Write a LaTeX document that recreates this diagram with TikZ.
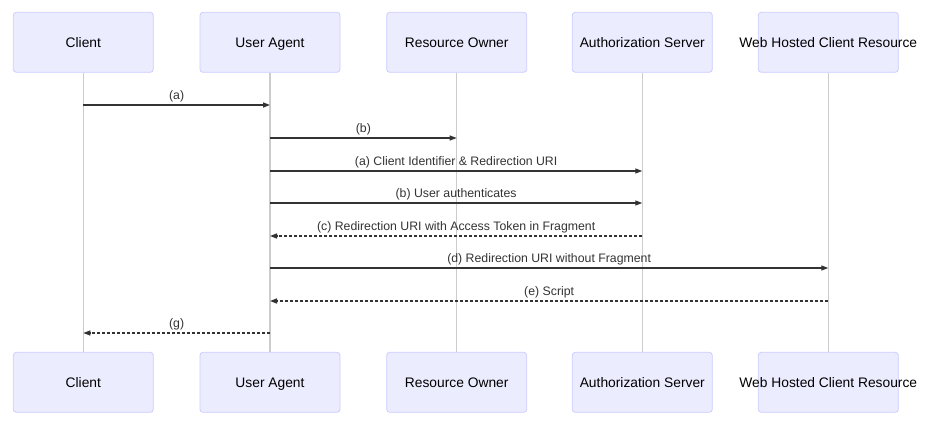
\documentclass[tikz,border=0pt]{standalone}
\usepackage{fontspec}
\setmainfont{Liberation Sans}
\usetikzlibrary{arrows.meta}
\definecolor{actfill}{HTML}{ECECFF}
\definecolor{actdraw}{HTML}{CCCCFF}
\definecolor{lifec}{HTML}{CCCCCC}
\definecolor{msgc}{HTML}{333333}
\tikzset{
  actor/.style={draw=actdraw, fill=actfill, line width=0.8pt, rounded corners=3pt,
    minimum width=140pt, minimum height=60pt, inner sep=0pt},
  actortext/.style={font=\fontsize{13.8pt}{16pt}\selectfont, text=black, inner sep=0pt,
    text height=10pt, text depth=0pt},
  life/.style={draw=lifec, line width=1.2pt},
  msg/.style={draw=msgc, line width=1.3pt, -{Triangle[length=7pt,width=5pt]}},
  reply/.style={msg, dash pattern=on 3pt off 2pt},
  lbl/.style={font=\fontsize{12.3pt}{14pt}\selectfont, text=msgc, above=2.5pt, inner sep=0pt, midway}
}
\begin{document}
\begin{tikzpicture}[x=1pt,y=-1pt]
\useasboundingbox (0,0) rectangle (929,422);
% actors
\foreach \n/\x/\t in {c/83.3/Client, u/270/User Agent, r/456.7/Resource Owner,
                      a/642.3/Authorization Server, w/828.3/Web Hosted Client Resource} {
  \node[actor] (\n1) at (\x,42.3) {};
  \node[actortext] (\n1t) at (\n1.center) {\t};
  \node[actor] (\n2) at (\x,382.3) {};
  \node[actortext] (\n2t) at (\n2.center) {\t};
}
% lifelines
\foreach \n in {c,u,r,a,w} { \draw[life] (\n1.south) -- (\n2.north); }
% message y coordinates
\foreach \n in {c,u,r,a,w} {
  \foreach \i/\y in {1/105,2/138,3/171,4/203,5/236,6/268,7/301,8/333} {
    \coordinate (\n m\i) at (\n1.south |- 0,\y);
  }
}
\draw[msg] (cm1) -- node[lbl] {(a)} (um1);
\draw[msg] (um2) -- node[lbl] {(b)} (rm2);
\draw[msg] (um3) -- node[lbl] {(a) Client Identifier \& Redirection URI} (am3);
\draw[msg] (um4) -- node[lbl] {(b) User authenticates} (am4);
\draw[reply] (am5) -- node[lbl] {(c) Redirection URI with Access Token in Fragment} (um5);
\draw[msg] (um6) -- node[lbl] {(d) Redirection URI without Fragment} (wm6);
\draw[reply] (wm7) -- node[lbl] {(e) Script} (um7);
\draw[reply] (um8) -- node[lbl] {(g)} (cm8);
\end{tikzpicture}
\end{document}
